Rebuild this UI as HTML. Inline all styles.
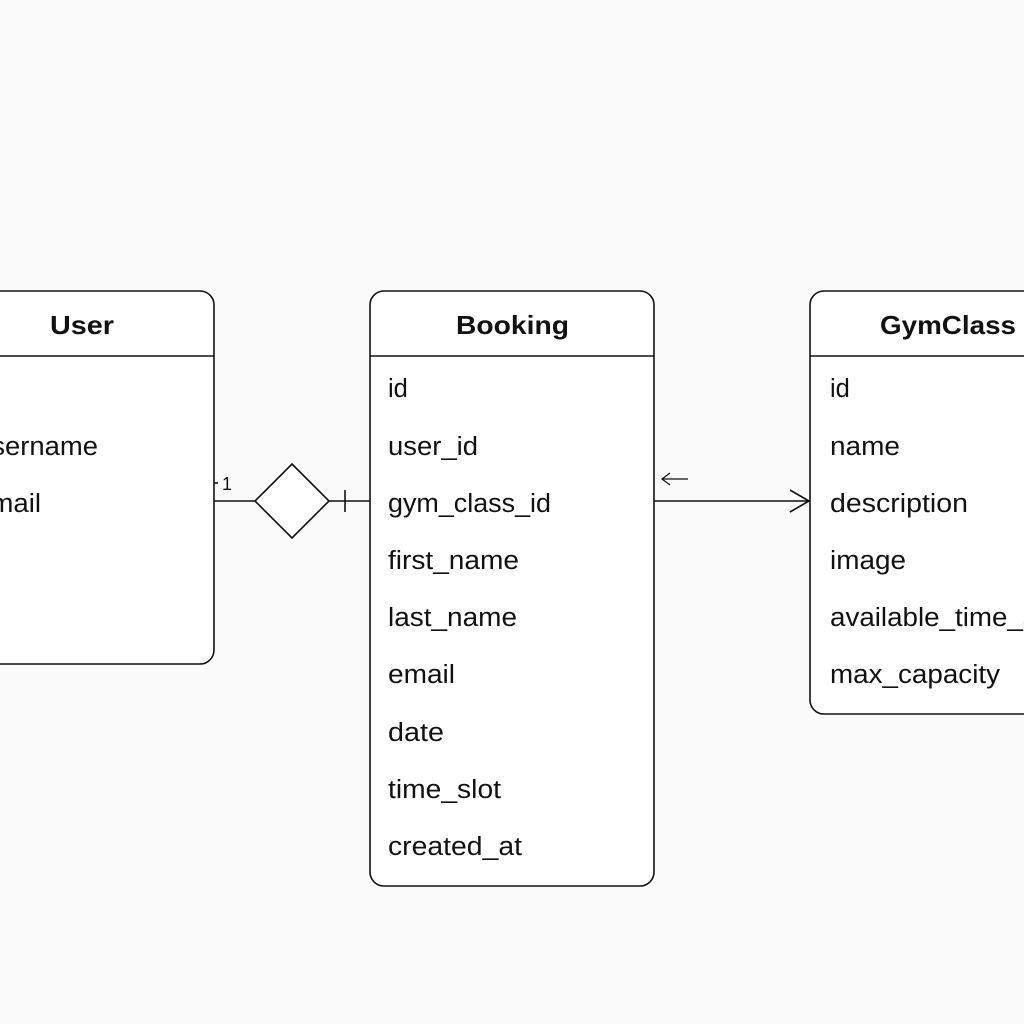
<!DOCTYPE html>
<html><head><meta charset="utf-8"><style>
html,body{margin:0;padding:0;background:#fbfbfb;}
svg{display:block;}
text{font-family:"Liberation Sans",sans-serif;fill:#111;}
.t{font-size:26px;font-weight:bold;}
.f{font-size:25.5px;}
</style></head><body>
<svg width="1024" height="1024" viewBox="0 0 1024 1024" xmlns="http://www.w3.org/2000/svg">
<rect width="1024" height="1024" fill="#fbfbfb"/>
<g fill="#fff" stroke="#111" stroke-width="1.6">
<rect x="-40" y="291" width="254" height="373" rx="14"/>
<rect x="370" y="291" width="284" height="595" rx="14"/>
<rect x="810" y="291" width="260" height="423" rx="14"/>
</g>
<g stroke="#111" stroke-width="1.6">
<line x1="0" y1="356" x2="214" y2="356"/>
<line x1="370" y1="356" x2="654" y2="356"/>
<line x1="810" y1="356" x2="1024" y2="356"/>
<line x1="214" y1="501" x2="255" y2="501"/>
<line x1="329" y1="501" x2="370" y2="501"/>
<line x1="345" y1="490" x2="345" y2="512"/>
<line x1="214" y1="483" x2="218" y2="483"/>
<line x1="654" y1="501" x2="809" y2="501"/>
<polyline points="790,490 809,501 790,512" fill="none"/>
<polyline points="670,473 662,479 670,485" fill="none" stroke-width="1.2"/>
<line x1="662" y1="479" x2="688" y2="479" stroke-width="1.2"/>
<polygon points="292,464 329,501 292,538 255,501" fill="#fff"/>
</g>
<text x="222" y="490" style="font-size:18px">1</text>
<text class="t" x="50" y="334" textLength="64" lengthAdjust="spacingAndGlyphs">User</text>
<text class="t" x="456" y="334" textLength="113" lengthAdjust="spacingAndGlyphs">Booking</text>
<text class="t" x="880" y="334" textLength="136" lengthAdjust="spacingAndGlyphs">GymClass</text>
<text class="f" x="-24" y="455" textLength="122" lengthAdjust="spacingAndGlyphs">username</text>
<text class="f" x="-25" y="512" textLength="66" lengthAdjust="spacingAndGlyphs">email</text>
<text class="f" x="388" y="397">id</text>
<text class="f" x="388" y="455" textLength="90" lengthAdjust="spacingAndGlyphs">user_id</text>
<text class="f" x="388" y="512" textLength="163" lengthAdjust="spacingAndGlyphs">gym_class_id</text>
<text class="f" x="388" y="569" textLength="131" lengthAdjust="spacingAndGlyphs">first_name</text>
<text class="f" x="388" y="626" textLength="129" lengthAdjust="spacingAndGlyphs">last_name</text>
<text class="f" x="388" y="683" textLength="67" lengthAdjust="spacingAndGlyphs">email</text>
<text class="f" x="388" y="741" textLength="56" lengthAdjust="spacingAndGlyphs">date</text>
<text class="f" x="388" y="798" textLength="113" lengthAdjust="spacingAndGlyphs">time_slot</text>
<text class="f" x="388" y="855" textLength="134" lengthAdjust="spacingAndGlyphs">created_at</text>
<text class="f" x="830" y="397">id</text>
<text class="f" x="830" y="455" textLength="70" lengthAdjust="spacingAndGlyphs">name</text>
<text class="f" x="830" y="512" textLength="138" lengthAdjust="spacingAndGlyphs">description</text>
<text class="f" x="830" y="569" textLength="76" lengthAdjust="spacingAndGlyphs">image</text>
<text class="f" x="830" y="626" textLength="250" lengthAdjust="spacingAndGlyphs">available_time_slots</text>
<text class="f" x="830" y="683" textLength="170" lengthAdjust="spacingAndGlyphs">max_capacity</text>
</svg>
</body></html>
